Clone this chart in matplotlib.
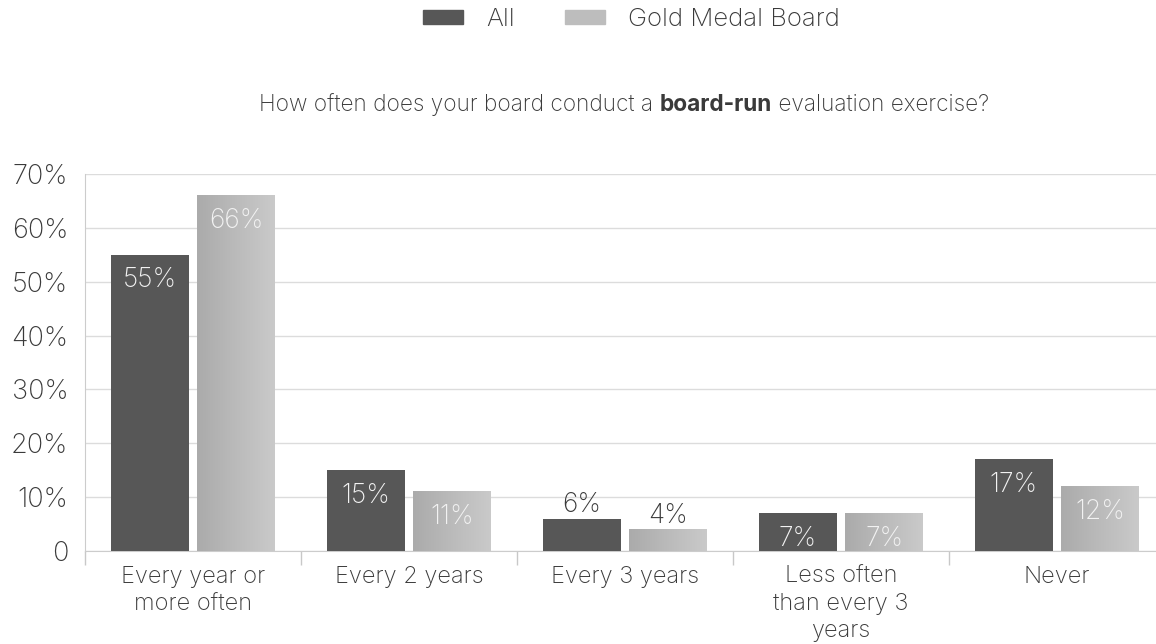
import matplotlib
matplotlib.use("Agg")
import matplotlib.pyplot as plt
import numpy as np
from matplotlib.patches import Patch

plt.rcParams["font.family"] = ["Inter", "DejaVu Sans"]

CATEGORIES = ["Every year or\nmore often", "Every 2 years", "Every 3 years",
              "Less often\nthan every 3\nyears", "Never"]
ALL_VALUES = [55, 15, 6, 7, 17]
GOLD_VALUES = [66, 11, 4, 7, 12]
SERIES_NAMES = ["All", "Gold Medal Board"]
Y_TICKS = [0, 10, 20, 30, 40, 50, 60, 70]
Y_LABELS = ["0", "10%", "20%", "30%", "40%", "50%", "60%", "70%"]
TITLE_PARTS = [("How often does your board conduct a ", "light"),
               ("board-run", "bold"),
               (" evaluation exercise?", "light")]

DARK = "#575757"
LIGHT = "#bdbdbd"
TEXT = "#3a3a3a"
GRID = "#dcdcdc"

fig = plt.figure(figsize=(11.56, 6.44), dpi=100)
ax = fig.add_axes([85 / 1156, 1 - 551 / 644, 1080 / 1156, (551 - 174) / 644])

x = np.arange(len(CATEGORIES))
offset, width = 0.2, 0.36
bars_all = ax.bar(x - offset, ALL_VALUES, width, color=DARK, zorder=3)
bars_gold = ax.bar(x + offset, GOLD_VALUES, width, color="none", zorder=3)

# gradient fill for the gold bars
grad = np.linspace(0.67, 0.79, 64).reshape(1, -1)
for b in bars_gold:
    x0, w, h = b.get_x(), b.get_width(), b.get_height()
    ax.imshow(grad, cmap="gray", vmin=0, vmax=1, aspect="auto",
              extent=(x0, x0 + w, 0, h), zorder=3, interpolation="bicubic")

ax.set_xlim(-0.5, len(CATEGORIES) - 0.5)
ax.set_ylim(0, 70)

for bars, vals in ((bars_all, ALL_VALUES), (bars_gold, GOLD_VALUES)):
    for b, v in zip(bars, vals):
        cx = b.get_x() + b.get_width() / 2
        if v >= 7:
            ax.annotate(f"{v}%", (cx, v), xytext=(0, -18.5), textcoords="offset points",
                        ha="center", va="center", fontsize=19, fontweight="light",
                        color="#f2f2f2", zorder=4)
        else:
            ax.annotate(f"{v}%", (cx, v), xytext=(0, 10), textcoords="offset points",
                        ha="center", va="center", fontsize=19, fontweight="light",
                        color=TEXT, zorder=4)

ax.set_yticks(Y_TICKS)
ax.set_yticklabels(Y_LABELS, fontweight="light")
ax.set_xticks(x)
ax.set_xticklabels(CATEGORIES, linespacing=1.3, fontweight="light")
ax.set_xticks(np.arange(len(CATEGORIES) + 1) - 0.5, minor=True)
ax.tick_params(axis="y", length=0, pad=12, labelsize=19.5, labelcolor=TEXT)
ax.tick_params(axis="x", which="major", length=0, pad=11, labelsize=17, labelcolor=TEXT)
ax.tick_params(axis="x", which="minor", length=10, color="#c8c8c8", width=1)

ax.grid(axis="y", color=GRID, linewidth=1, zorder=0)
ax.set_axisbelow(True)
for side in ("top", "right"):
    ax.spines[side].set_visible(False)
for side in ("left", "bottom"):
    ax.spines[side].set_color("#cccccc")

handles = [Patch(color=DARK), Patch(color=LIGHT)]
leg = fig.legend(handles, SERIES_NAMES, loc="center", bbox_to_anchor=(0.5463, 1 - 20 / 644),
                 ncol=2, frameon=False, fontsize=18.5, handlelength=1.55, handleheight=0.47,
                 columnspacing=1.95, handletextpad=0.9, labelcolor=TEXT)
for t in leg.get_texts():
    t.set_fontweight("light")

# title with a bold fragment, centred over the axes
fig.canvas.draw()
renderer = fig.canvas.get_renderer()
texts = []
for s, weight in TITLE_PARTS:
    t = fig.text(0, 1 - 105 / 644, s, fontsize=16.3, fontweight=weight, color=TEXT,
                 va="center", ha="left")
    texts.append(t)
widths = [t.get_window_extent(renderer).width for t in texts]
start = 624 - sum(widths) / 2
for t, w in zip(texts, widths):
    t.set_x(start / 1156)
    start += w

fig.savefig("out.png", dpi=100)
